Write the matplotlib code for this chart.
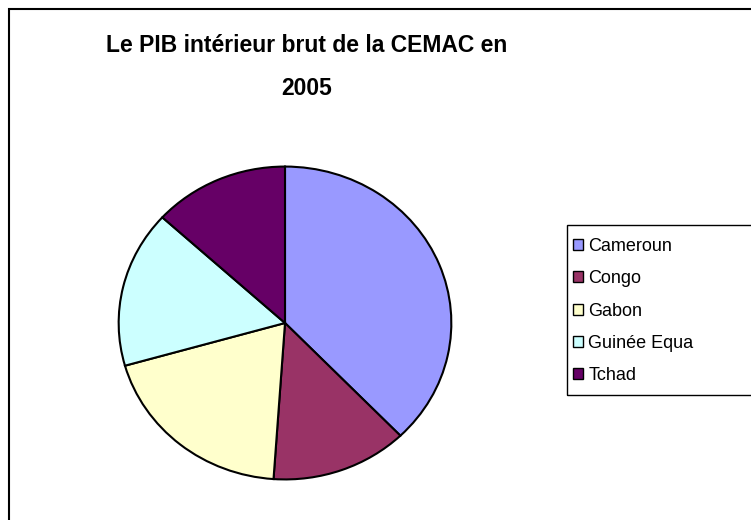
import matplotlib.pyplot as plt
from matplotlib.patches import Rectangle

plt.rcParams['font.family'] = ['Liberation Sans', 'DejaVu Sans']

# Part du PIB par pays (en %)
pays = ['Cameroun', 'Congo', 'Gabon', 'Guinée Equa', 'Tchad']
pib = [37.8, 13.3, 19.5, 16.2, 13.2]
couleurs = ['#9999FF', '#993366', '#FFFFCC', '#CCFFFF', '#660066']

W, H = 751, 520
fig = plt.figure(figsize=(W / 100, H / 100), dpi=100)

# Cadre extérieur (coupé à droite et en bas)
fig.patches.append(Rectangle((9 / W, 1 - 530 / H), 760 / W, 521 / H,
                             transform=fig.transFigure, fill=False,
                             edgecolor='black', linewidth=1.5))

# Camembert légèrement écrasé verticalement
ax = fig.add_axes([117 / W, 1 - 481 / H, 336 / W, 316 / H])
wedges, _ = ax.pie(pib, colors=couleurs, startangle=90, counterclock=False,
                   wedgeprops=dict(edgecolor='black', linewidth=1.5))
ax.set_aspect('auto')
ax.set_xlim(-1.01, 1.01)
ax.set_ylim(-1.01, 1.01)

fig.text(307 / W, 1 - 67 / H, "Le PIB intérieur brut de la CEMAC en\n2005",
         ha='center', va='center', fontsize=16.5, fontweight='bold',
         linespacing=2.1)

# Légende
fig.patches.append(Rectangle((567 / W, 1 - 395 / H), 300 / W, 170 / H,
                             transform=fig.transFigure, fill=False,
                             edgecolor='black', linewidth=1))
leg = fig.legend(wedges, pays, loc='upper left',
                 bbox_to_anchor=(562 / W, 1 - 227 / H), frameon=False,
                 fontsize=13, handlelength=0.55, handleheight=0.55,
                 handletextpad=0.3, labelspacing=0.85, borderpad=0.1)
for h in leg.legend_handles:
    h.set_linewidth(1)

fig.savefig('out.png', dpi=100)
